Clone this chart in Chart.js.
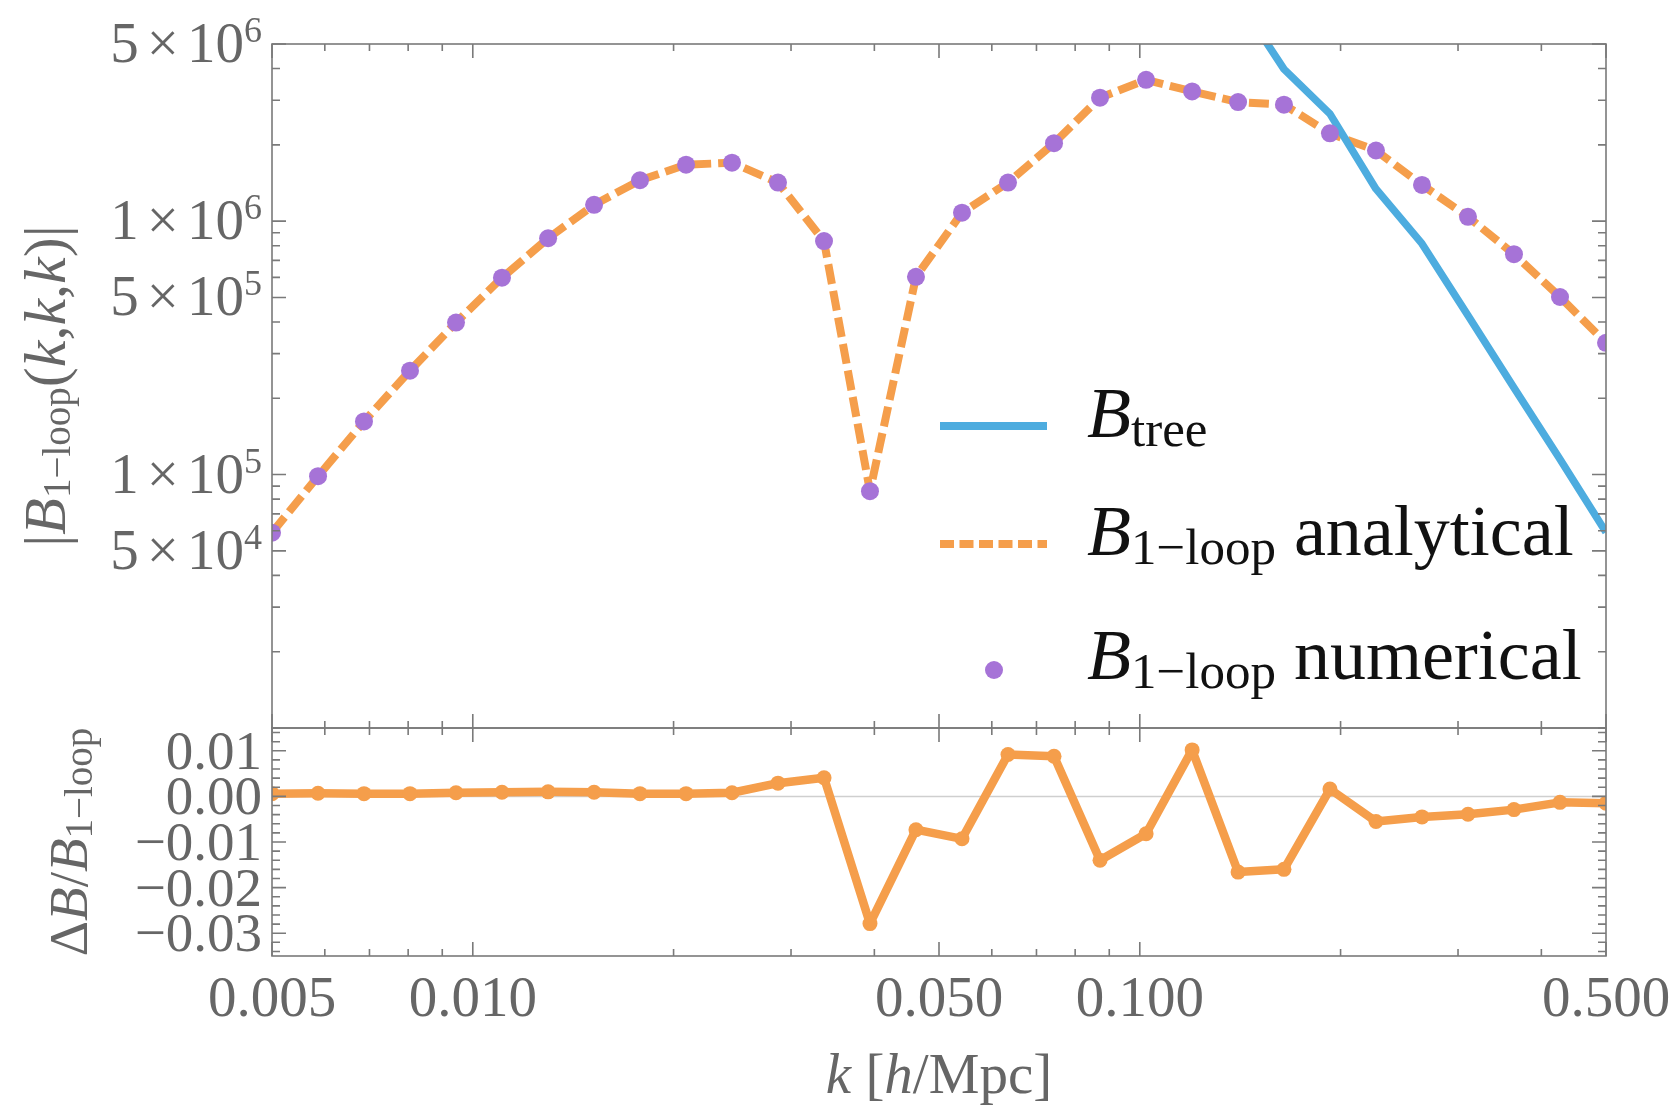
<!DOCTYPE html>
<html>
<head>
<meta charset="utf-8">
<script src="https://cdn.jsdelivr.net/npm/chart.js@4.4.0/dist/chart.umd.min.js"></script>
<style>
  html, body { margin: 0; padding: 0; background: #fff; }
  #wrap { position: relative; width: 1679px; height: 1107px; }
  canvas { position: absolute; left: 0; top: 0; }
</style>
</head>
<body>
<div id="wrap">
  <canvas id="topChart" width="1679" height="1107"></canvas>
  <canvas id="bottomChart" width="1679" height="1107"></canvas>
</div>
<script>
// k [h/Mpc] sample points (30, log spaced 0.005 .. 0.5)
const kValues = [0.005, 0.005861, 0.006869, 0.008051, 0.009437, 0.01106, 0.01297, 0.01520,
  0.01781, 0.02088, 0.02447, 0.02868, 0.03362, 0.03940, 0.04618, 0.05413, 0.06345, 0.07437,
  0.08717, 0.1022, 0.1198, 0.1404, 0.1645, 0.1928, 0.2260, 0.2649, 0.3105, 0.3639, 0.4266, 0.5];

// |B_1-loop(k,k,k)| (analytical line and numerical dots coincide at this scale)
const bOneLoop = [5.9e4, 9.85e4, 1.62e5, 2.57e5, 3.98e5, 5.98e5, 8.56e5, 1.16e6,
  1.45e6, 1.67e6, 1.70e6, 1.42e6, 8.34e5, 8.6e4, 6.03e5, 1.08e6, 1.42e6, 2.03e6,
  3.07e6, 3.61e6, 3.25e6, 2.95e6, 2.88e6, 2.22e6, 1.90e6, 1.39e6, 1.04e6, 7.41e5, 5.02e5, 3.31e5];

// B_tree, only visible at high k
const bTree = [null, null, null, null, null, null, null, null, null, null, null,
  null, null, null, null, null, null, null, null, null, null,
  7.5e6, 3.98e6, 2.65e6, 1.34e6, 8.15e5, 4.24e5, 2.20e5, 1.15e5, 5.92e4];

// Delta B / B_1-loop
const relDiff = [0.0006, 0.0007, 0.0006, 0.0006, 0.0008, 0.0009, 0.0010, 0.0009,
  0.0006, 0.0006, 0.0008, 0.0029, 0.0041, -0.0279, -0.0073, -0.0093, 0.0092, 0.0088,
  -0.0140, -0.0082, 0.0102, -0.0166, -0.0160, 0.0016, -0.0055, -0.0045, -0.0039, -0.0029, -0.0013, -0.0015];

// ticks
const xTickValues = [0.005, 0.01, 0.05, 0.1, 0.5];
const xTickLabels = ['0.005', '0.010', '0.050', '0.100', '0.500'];
const xMinorTicks = [0.006, 0.007, 0.008, 0.009, 0.02, 0.03, 0.04, 0.06, 0.07, 0.08, 0.09, 0.2, 0.3, 0.4];
const yTopTickValues = [5e6, 1e6, 5e5, 1e5, 5e4];
const yTopMantissa = ['5', '1', '5', '1', '5'];
const yTopExponent = ['6', '6', '5', '5', '4'];
const yBotTickValues = [0.01, 0, -0.01, -0.02, -0.03];
const yBotTickLabels = ['0.01', '0.00', '\u22120.01', '\u22120.02', '\u22120.03'];

const ORANGE = '#F59E4B';
const BLUE = '#4DACDF';
const PURPLE = '#A673D7';
const FRAME = '#7a7a7a';
const TEXT = '#666666';
const SERIF = '"Liberation Serif", "DejaVu Serif", serif';

const f = (size, italic) => (italic ? 'italic ' : '') + size + 'px ' + SERIF;

// draws runs of text side by side; a number part is just a gap
function rich(ctx, parts, x, y, align) {
  let w = 0;
  parts.forEach(p => {
    if (typeof p === 'number') { w += p; return; }
    ctx.font = p[1]; w += ctx.measureText(p[0]).width;
  });
  let cx = align === 'center' ? x - w / 2 : align === 'right' ? x - w : x;
  ctx.textAlign = 'left';
  ctx.textBaseline = 'alphabetic';
  parts.forEach(p => {
    if (typeof p === 'number') { cx += p; return; }
    ctx.font = p[1];
    ctx.fillText(p[0], cx, y + (p[2] || 0));
    cx += ctx.measureText(p[0]).width;
  });
}

function frameAndTicks(chart, yMajor, yMinor) {
  const { ctx, chartArea: a, scales: { x, y } } = chart;
  ctx.save();
  ctx.strokeStyle = FRAME;
  ctx.lineWidth = 1.6;
  ctx.strokeRect(a.left, a.top, a.right - a.left, a.bottom - a.top);
  ctx.beginPath();
  const tx = (v, len) => {
    const px = x.getPixelForValue(v);
    ctx.moveTo(px, a.top); ctx.lineTo(px, a.top + len);
    ctx.moveTo(px, a.bottom); ctx.lineTo(px, a.bottom - len);
  };
  const ty = (v, len) => {
    const py = y.getPixelForValue(v);
    ctx.moveTo(a.left, py); ctx.lineTo(a.left + len, py);
    ctx.moveTo(a.right, py); ctx.lineTo(a.right - len, py);
  };
  xTickValues.forEach(v => tx(v, 14));
  xMinorTicks.forEach(v => tx(v, 7));
  yMajor.forEach(v => ty(v, 14));
  yMinor.forEach(v => ty(v, 8));
  ctx.stroke();
  ctx.restore();
}

// minor ticks for the log axis: 2..9 x 10^n, skipping the labelled 5s
const yTopMinor = [];
[1e4, 1e5, 1e6].forEach(d => {
  [2, 3, 4, 6, 7, 8, 9].forEach(m => { if (m * d < 5e6) yTopMinor.push(m * d); });
});
yTopMinor.push(1e4);
const yBotMinor = [];
for (let i = -17; i <= 7; i++) { if (i % 5 !== 0) yBotMinor.push(i * 0.002); }

const topPlugin = {
  id: 'topDecor',
  afterDraw(chart) {
    const { ctx, chartArea: a, scales: { y } } = chart;
    frameAndTicks(chart, yTopTickValues, yTopMinor);
    ctx.save();
    ctx.fillStyle = TEXT;
    // y tick labels  m x 10^e
    yTopTickValues.forEach((v, i) => {
      const py = y.getPixelForValue(v);
      rich(ctx, [[yTopMantissa[i], f(57)], 8, ['\u00d7', f(57)], 8, ['10', f(57)], [yTopExponent[i], f(36), -20]],
        262, py + 18, 'right');
    });
    // y axis title
    ctx.save();
    ctx.translate(65, (a.top + a.bottom) / 2);
    ctx.rotate(-Math.PI / 2);
    rich(ctx, [['|', f(60)], ['B', f(60, true)], ['1\u2212loop', f(39), 5], ['(', f(60)], ['k', f(60, true)],
      [',', f(60)], ['k', f(60, true)], [',', f(60)], ['k', f(60, true)], [')|', f(60)]], 0, 0, 'center');
    ctx.restore();

    // legend
    ctx.lineWidth = 8;
    ctx.strokeStyle = BLUE;
    ctx.beginPath(); ctx.moveTo(940, 426); ctx.lineTo(1047, 426); ctx.stroke();
    ctx.strokeStyle = ORANGE;
    ctx.setLineDash([14, 5.5]);
    ctx.beginPath(); ctx.moveTo(940, 544); ctx.lineTo(1047, 544); ctx.stroke();
    ctx.setLineDash([]);
    ctx.fillStyle = PURPLE;
    ctx.beginPath(); ctx.arc(994, 670, 9, 0, Math.PI * 2); ctx.fill();
    ctx.fillStyle = '#111';
    rich(ctx, [['B', f(72, true)], ['tree', f(51), 9]], 1087, 437, 'left');
    rich(ctx, [['B', f(72, true)], ['1\u2212loop', f(51), 9], [' analytical', f(72)]], 1087, 555, 'left');
    rich(ctx, [['B', f(72, true)], ['1\u2212loop', f(51), 9], [' numerical', f(72)]], 1087, 679, 'left');
    ctx.restore();
  }
};

const bottomPlugin = {
  id: 'bottomDecor',
  beforeDatasetsDraw(chart) {
    const { ctx, chartArea: a, scales: { y } } = chart;
    const py = y.getPixelForValue(0);
    ctx.save();
    ctx.strokeStyle = '#cfcfcf';
    ctx.lineWidth = 1.5;
    ctx.beginPath(); ctx.moveTo(a.left, py); ctx.lineTo(a.right, py); ctx.stroke();
    ctx.restore();
  },
  afterDraw(chart) {
    const { ctx, chartArea: a, scales: { x, y } } = chart;
    frameAndTicks(chart, yBotTickValues, yBotMinor);
    ctx.save();
    ctx.fillStyle = TEXT;
    yBotTickValues.forEach((v, i) => {
      rich(ctx, [[yBotTickLabels[i], f(55)]], 262, y.getPixelForValue(v) + 18, 'right');
    });
    xTickValues.forEach((v, i) => {
      rich(ctx, [[xTickLabels[i], f(57)]], x.getPixelForValue(v), 1016, 'center');
    });
    // x axis title
    rich(ctx, [['k', f(57, true)], [' [', f(57)], ['h', f(57, true)], ['/Mpc]', f(57)]],
      (a.left + a.right) / 2, 1093, 'center');
    // y axis title
    ctx.save();
    ctx.translate(87, (a.top + a.bottom) / 2);
    ctx.rotate(-Math.PI / 2);
    rich(ctx, [['\u0394', f(55)], ['B', f(55, true)], ['/', f(55)], ['B', f(55, true)], ['1\u2212loop', f(39), 5]],
      0, 0, 'center');
    ctx.restore();
    ctx.restore();
  }
};

const xScale = { type: 'logarithmic', min: 0.005, max: 0.5, display: false };

new Chart(document.getElementById('topChart'), {
  type: 'line',
  data: {
    datasets: [
      {
        label: 'B 1-loop numerical',
        data: kValues.map((k, i) => ({ x: k, y: bOneLoop[i] })),
        showLine: false,
        pointRadius: 9,
        pointBackgroundColor: PURPLE,
        pointBorderWidth: 0,
        order: 0,
        clip: 0
      },
      {
        label: 'B tree',
        data: kValues.map((k, i) => ({ x: k, y: bTree[i] })),
        borderColor: BLUE,
        borderWidth: 7.5,
        borderJoinStyle: 'round',
        pointRadius: 0,
        order: 1,
        clip: 0
      },
      {
        label: 'B 1-loop analytical',
        data: kValues.map((k, i) => ({ x: k, y: bOneLoop[i] })),
        borderColor: ORANGE,
        borderWidth: 8,
        borderDash: [20, 7],
        borderJoinStyle: 'bevel',
        pointRadius: 0,
        order: 2,
        clip: 0
      }
    ]
  },
  options: {
    responsive: false,
    animation: false,
    devicePixelRatio: 1,
    events: [],
    layout: { padding: { left: 272, right: 73, top: 44, bottom: 379 } },
    scales: {
      x: xScale,
      y: { type: 'logarithmic', min: 1e4, max: 5e6, display: false }
    },
    plugins: { legend: { display: false }, tooltip: { enabled: false } }
  },
  plugins: [topPlugin]
});

new Chart(document.getElementById('bottomChart'), {
  type: 'line',
  data: {
    datasets: [{
      label: 'Delta B / B',
      data: kValues.map((k, i) => ({ x: k, y: relDiff[i] })),
      borderColor: ORANGE,
      borderWidth: 8.5,
      borderJoinStyle: 'round',
      pointRadius: 7.5,
      pointBackgroundColor: ORANGE,
      pointBorderWidth: 0,
      clip: 0
    }]
  },
  options: {
    responsive: false,
    animation: false,
    devicePixelRatio: 1,
    events: [],
    layout: { padding: { left: 272, right: 73, top: 728, bottom: 151 } },
    scales: {
      x: xScale,
      y: { type: 'linear', min: -0.035, max: 0.015, display: false }
    },
    plugins: { legend: { display: false }, tooltip: { enabled: false } }
  },
  plugins: [bottomPlugin]
});
</script>
</body>
</html>
